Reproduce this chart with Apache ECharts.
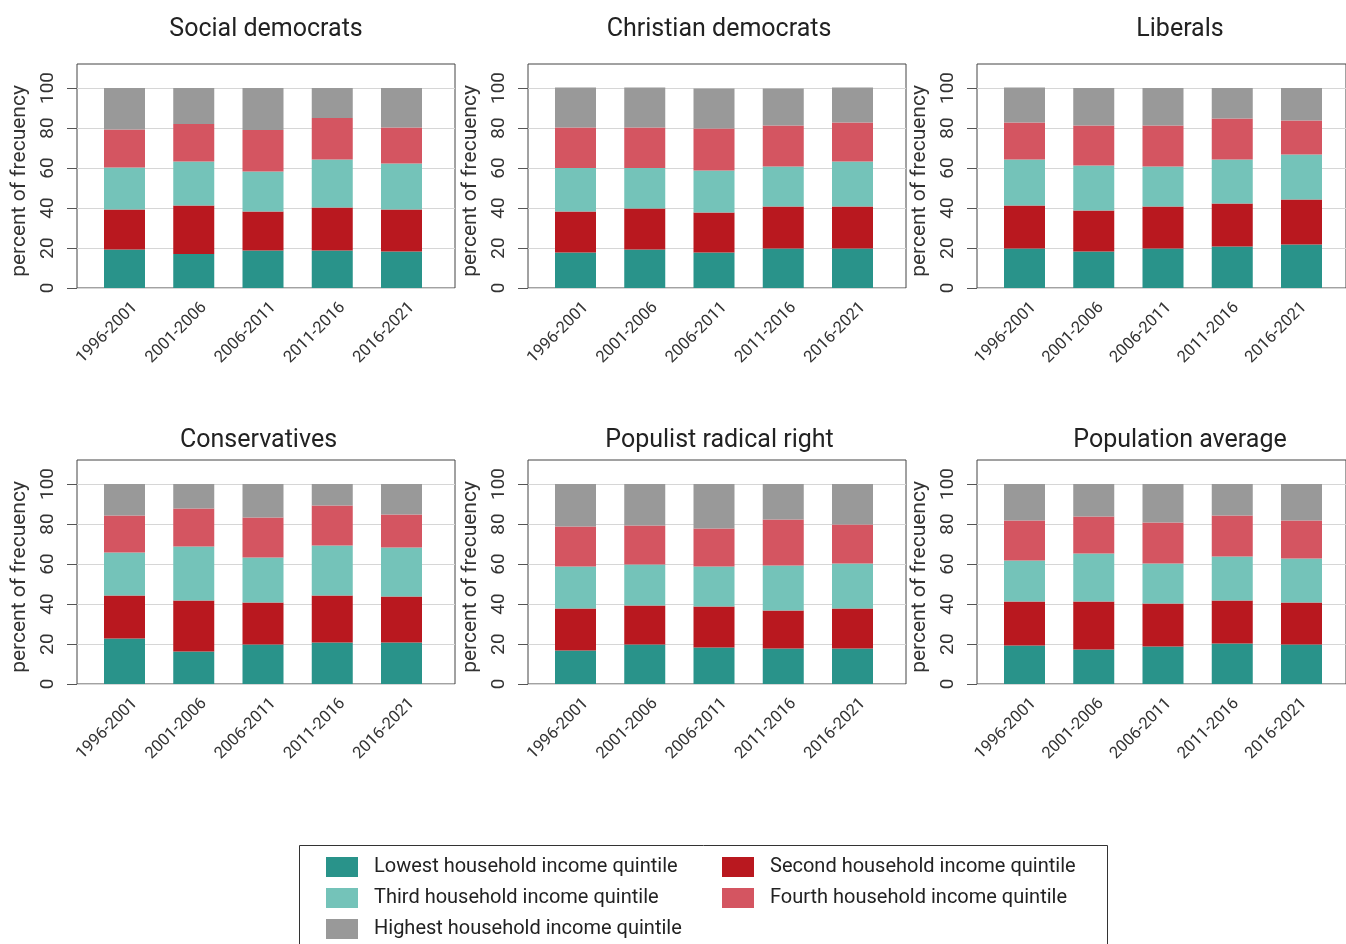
<!DOCTYPE html>
<html>
<head>
<meta charset="utf-8">
<style>
  html, body { margin: 0; padding: 0; background: #ffffff; }
  #chart { width: 1346px; height: 944px; }
</style>
<script src="https://cdn.jsdelivr.net/npm/echarts@6/dist/echarts.min.js"></script>
</head>
<body>
<div id="chart"></div>
<script>
// ---------- data ----------
const categories = ['1996-2001', '2001-2006', '2006-2011', '2011-2016', '2016-2021'];
const yTicks = [0, 20, 40, 60, 80, 100];
const quintileNames = [
  'Lowest household income quintile',
  'Second household income quintile',
  'Third household income quintile',
  'Fourth household income quintile',
  'Highest household income quintile'
];
const panelTitles = ['Social democrats', 'Christian democrats', 'Liberals',
                     'Conservatives', 'Populist radical right', 'Population average'];

// Social democrats
const socLowest  = [19.3, 17.0, 18.8, 18.8, 18.3];
const socSecond  = [20.0, 24.3, 19.5, 21.5, 21.0];
const socThird   = [21.0, 22.0, 20.0, 24.0, 23.0];
const socFourth  = [19.0, 18.7, 20.7, 20.7, 18.0];
const socHighest = [20.7, 18.0, 21.0, 15.0, 19.7];
// Christian democrats
const chrLowest  = [17.8, 19.3, 17.8, 19.8, 19.8];
const chrSecond  = [20.5, 20.5, 20.0, 21.0, 21.0];
const chrThird   = [21.7, 20.2, 21.0, 20.0, 22.5];
const chrFourth  = [20.3, 20.3, 21.0, 20.5, 19.5];
const chrHighest = [20.0, 20.0, 20.0, 18.5, 17.5];
// Liberals
const libLowest  = [19.8, 18.3, 19.8, 20.8, 21.8];
const libSecond  = [21.5, 20.5, 21.0, 21.5, 22.5];
const libThird   = [23.0, 22.5, 20.0, 22.0, 22.5];
const libFourth  = [18.5, 20.0, 20.5, 20.5, 17.0];
const libHighest = [17.5, 18.7, 18.7, 15.2, 16.2];
// Conservatives
const conLowest  = [22.7, 16.2, 19.7, 20.7, 20.7];
const conSecond  = [21.5, 25.5, 21.0, 23.5, 23.0];
const conThird   = [21.5, 27.0, 22.5, 25.0, 24.5];
const conFourth  = [18.5, 19.0, 20.0, 20.0, 16.5];
const conHighest = [15.8, 12.3, 16.8, 10.8, 15.3];
// Populist radical right
const popLowest  = [16.7, 19.7, 18.2, 17.7, 17.7];
const popSecond  = [21.0, 19.5, 20.5, 19.0, 20.0];
const popThird   = [21.0, 20.5, 20.0, 22.5, 22.5];
const popFourth  = [20.0, 19.5, 19.0, 23.0, 19.5];
const popHighest = [21.3, 20.8, 22.3, 17.8, 20.3];
// Population average
const avgLowest  = [19.2, 17.2, 18.7, 20.2, 19.7];
const avgSecond  = [22.0, 24.0, 21.5, 21.5, 21.0];
const avgThird   = [20.5, 24.0, 20.0, 22.0, 22.0];
const avgFourth  = [20.0, 18.5, 20.5, 20.5, 19.0];
const avgHighest = [18.3, 16.3, 19.3, 15.8, 18.3];

const panelData = [
  [socLowest, socSecond, socThird, socFourth, socHighest],
  [chrLowest, chrSecond, chrThird, chrFourth, chrHighest],
  [libLowest, libSecond, libThird, libFourth, libHighest],
  [conLowest, conSecond, conThird, conFourth, conHighest],
  [popLowest, popSecond, popThird, popFourth, popHighest],
  [avgLowest, avgSecond, avgThird, avgFourth, avgHighest]
];

// ---------- style / layout ----------
const colors = ['#29938a', '#b9181f', '#74c3b9', '#d45561', '#999999'];
const FONT = 'Roboto';
const gridLefts = [77, 528, 977];
const gridTops = [64, 460];
const gridW = 378, gridH = 224;
const bandW = 69.25, firstCenter = 47.5;
const titleCenters = [[266, 17], [719, 17], [1180, 17], [258.5, 428], [719.5, 428], [1180, 428]];
const xMin = 1 - firstCenter / bandW;
const xMax = xMin + gridW / bandW;
const labelShift = 10.5 / bandW;
const Y_MAX = 112;

const grids = [], xAxes = [], yAxes = [], series = [], titles = [];
for (let p = 0; p < 6; p++) {
  const col = p % 3, row = Math.floor(p / 3);
  const L = gridLefts[col], T = gridTops[row];
  const fi = 2 * p, bi = 2 * p + 1;
  // frame grid: border, y axis, grid lines, x labels
  grids.push({
    left: L, top: T, width: gridW, height: gridH,
    show: true, borderColor: '#444', borderWidth: 1, backgroundColor: 'transparent'
  });
  // bar grid: category bands aligned with the bars
  grids.push({
    left: L + firstCenter - bandW / 2, top: T, width: bandW * categories.length, height: gridH
  });
  xAxes.push({
    type: 'value', gridIndex: fi, min: xMin, max: xMax,
    axisLine: { show: false }, axisTick: { show: false }, splitLine: { show: false },
    axisLabel: {
      customValues: categories.map((c, i) => i + 1 + labelShift),
      formatter: (v) => categories[Math.round(v - labelShift) - 1] || '',
      rotate: 45, margin: 17, fontSize: 16.5, color: '#333', fontFamily: FONT
    }
  });
  xAxes.push({
    type: 'category', gridIndex: bi, data: categories, boundaryGap: true,
    axisLine: { show: false }, axisTick: { show: false }, axisLabel: { show: false },
    splitLine: { show: false }
  });
  yAxes.push({
    type: 'value', gridIndex: fi, min: 0, max: Y_MAX,
    name: 'percent of frecuency', nameLocation: 'middle', nameGap: 47,
    nameTextStyle: { fontSize: 21, color: '#333', fontFamily: FONT, padding: [0, 10, 0, 0] },
    axisLine: { show: false },
    axisTick: { show: true, length: 10, customValues: yTicks, lineStyle: { color: '#555' } },
    axisLabel: { customValues: yTicks, rotate: 90, margin: 19, fontSize: 19, color: '#333', fontFamily: FONT },
    splitLine: { show: true, lineStyle: { color: '#d6d6d6', width: 1 } }
  });
  yAxes.push({
    type: 'value', gridIndex: bi, min: 0, max: Y_MAX, show: false
  });
  titles.push({
    text: panelTitles[p], left: titleCenters[p][0], top: titleCenters[p][1], textAlign: 'center',
    padding: 0,
    textStyle: { fontSize: 25, fontWeight: 'normal', color: '#222', fontFamily: FONT }
  });
  panelData[p].forEach((vals, q) => {
    series.push({
      type: 'bar', name: quintileNames[q], stack: 'panel' + p,
      xAxisIndex: bi, yAxisIndex: bi, barWidth: 41,
      itemStyle: { color: colors[q] },
      data: vals,
      animation: false
    });
  });
}

const legendText = { fontSize: 20, color: '#222', fontFamily: FONT, padding: [0, 0, 0, 11] };
const option = {
  animation: false,
  title: titles,
  grid: grids,
  xAxis: xAxes,
  yAxis: yAxes,
  series: series,
  legend: [
    {
      orient: 'vertical', left: 326, top: 857, padding: 0,
      itemWidth: 32, itemHeight: 20, itemGap: 11, icon: 'rect',
      data: [quintileNames[0], quintileNames[2], quintileNames[4]],
      textStyle: legendText, selectedMode: false
    },
    {
      orient: 'vertical', left: 722, top: 857, padding: 0,
      itemWidth: 32, itemHeight: 20, itemGap: 11, icon: 'rect',
      data: [quintileNames[1], quintileNames[3]],
      textStyle: legendText, selectedMode: false
    }
  ],
  graphic: [{
    type: 'rect', shape: { x: 299.5, y: 845.5, width: 808, height: 130 },
    style: { fill: 'none', stroke: '#333', lineWidth: 1 }, silent: true
  }]
};

const chart = echarts.init(document.getElementById('chart'), null, { renderer: 'canvas' });
chart.setOption(option);
</script>
</body>
</html>
